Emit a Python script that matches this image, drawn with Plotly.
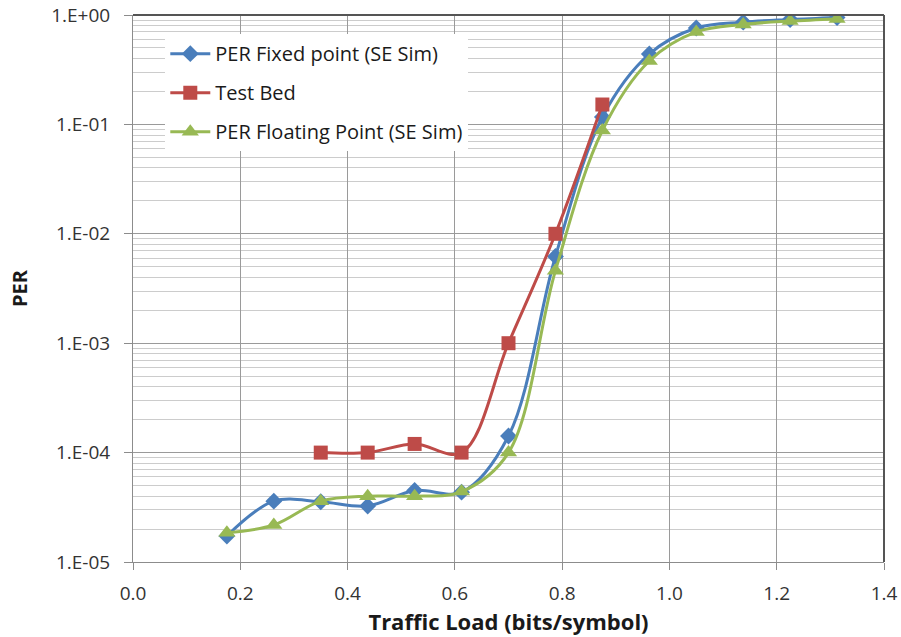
import plotly.graph_objects as go

# Traffic load (bits/symbol)
load_sim = [0.175, 0.2625, 0.35, 0.4375, 0.525, 0.6125, 0.7, 0.7875,
            0.875, 0.9625, 1.05, 1.1375, 1.225, 1.3125]
load_bed = [0.35, 0.4375, 0.525, 0.6125, 0.7, 0.7875, 0.875]

# Packet error rate per series
per_fixed = [1.73e-5, 3.6e-5, 3.55e-5, 3.25e-5, 4.5e-5, 4.35e-5, 1.42e-4,
             6.2e-3, 0.117, 0.44, 0.76, 0.86, 0.91, 0.95]
per_bed = [1.0e-4, 1.0e-4, 1.2e-4, 1.0e-4, 1.0e-3, 1.0e-2, 0.152]
per_float = [1.85e-5, 2.18e-5, 3.6e-5, 4.0e-5, 4.0e-5, 4.4e-5, 1.0e-4,
             4.6e-3, 0.088, 0.38, 0.70, 0.82, 0.88, 0.92]

series_names = ["PER Fixed point (SE Sim)", "Test Bed", "PER Floating Point (SE Sim)"]

x_ticks = [0.0, 0.2, 0.4, 0.6, 0.8, 1.0, 1.2, 1.4]
y_ticks = [1e-5, 1e-4, 1e-3, 1e-2, 1e-1, 1e0]
y_labels = ["1.E-05", "1.E-04", "1.E-03", "1.E-02", "1.E-01", "1.E+00"]

FONT = "Open Sans, Noto Sans, sans-serif"

fig = go.Figure()
fig.add_trace(go.Scatter(
    x=load_sim, y=per_fixed, name=series_names[0], legendgroup="fixed",
    mode="lines+markers",
    line=dict(color="#4a7ebb", width=3, shape="spline", smoothing=1.0),
    marker=dict(symbol="diamond", size=13, color="#4a7ebb"),
))
fig.add_trace(go.Scatter(
    x=load_bed, y=per_bed, name=series_names[1], legendgroup="bed",
    mode="lines+markers",
    line=dict(color="#be4b48", width=3, shape="spline", smoothing=1.0),
    marker=dict(symbol="square", size=14, color="#be4b48"),
))
fig.add_trace(go.Scatter(
    x=load_sim, y=per_float, name=series_names[2], legendgroup="float",
    mode="lines+markers",
    line=dict(color="#98b954", width=3, shape="spline", smoothing=1.0),
    marker=dict(symbol="triangle-up", size=15, color="#98b954"),
))

fig.update_layout(
    width=901, height=637,
    margin=dict(l=133, r=17, t=15, b=75),
    paper_bgcolor="white", plot_bgcolor="white",
    font=dict(family=FONT, color="#262626"),
    showlegend=True,
    legend=dict(
        x=0.043, y=0.965, xanchor="left", yanchor="top",
        bgcolor="white", borderwidth=0,
        font=dict(size=20, color="#1a1a1a", family=FONT),
        tracegroupgap=10, itemwidth=40,
    ),
)

fig.update_xaxes(
    range=[0, 1.4], tickvals=x_ticks, tickformat=".1f", automargin=False,
    tickfont=dict(size=19, color="#333333"),
    showgrid=True, gridcolor="#9a9a9a", gridwidth=1,
    showline=True, linecolor="#8c8c8c", linewidth=1, mirror=False,
    ticks="outside", ticklen=7, tickcolor="#8c8c8c", ticklabelstandoff=7,
    zeroline=False,
    title=dict(text="<b>Traffic Load (bits/symbol)</b>",
               font=dict(size=22, color="#1a1a1a"), standoff=2),
)
fig.update_yaxes(
    type="log", range=[-5, 0], tickvals=y_ticks, ticktext=y_labels, automargin=False,
    tickfont=dict(size=19, color="#333333"),
    showgrid=True, gridcolor="#9a9a9a", gridwidth=1,
    minor=dict(dtick="D1", showgrid=True, gridcolor="#cccccc", gridwidth=1, ticks=""),
    showline=True, linecolor="#8c8c8c", linewidth=1,
    ticks="outside", ticklen=8, tickcolor="#8c8c8c", ticklabelstandoff=10,
    zeroline=False,
    title=dict(text="<b>PER</b>", font=dict(size=20, color="#1a1a1a"), standoff=18),
)

# dark frame on the top and right edges of the plot area
fig.add_shape(type="line", xref="paper", yref="paper", x0=0, x1=1, y0=1, y1=1,
              line=dict(color="#555555", width=2))
fig.add_shape(type="line", xref="paper", yref="paper", x0=1, x1=1, y0=0, y1=1,
              line=dict(color="#555555", width=2))

fig.write_html("out.html")
